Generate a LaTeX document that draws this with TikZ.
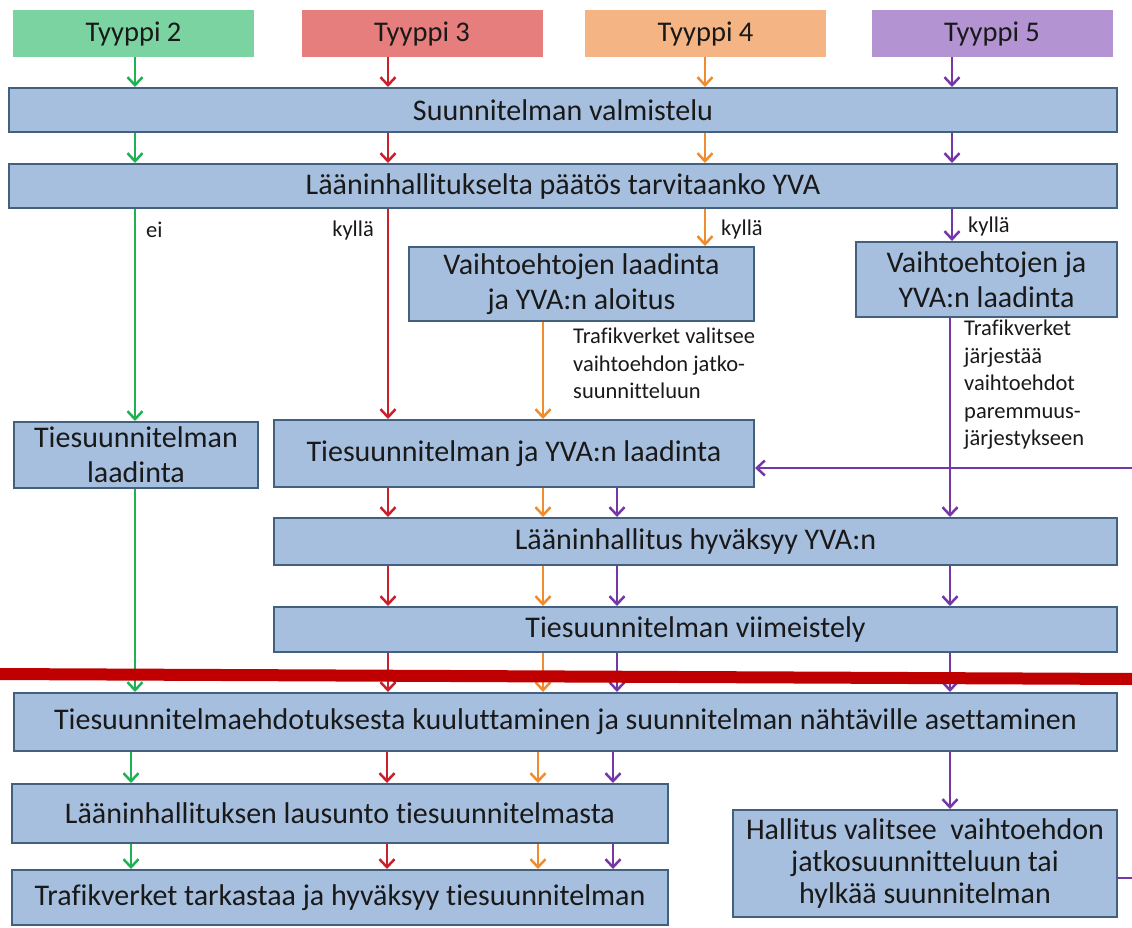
\documentclass[tikz,border=0pt]{standalone}
\usepackage{fontspec}
\setmainfont{Carlito}[Ligatures=NoCommon]
\usetikzlibrary{arrows.meta}
\definecolor{tgreen}{HTML}{7BD3A1}
\definecolor{tred}{HTML}{E67E7E}
\definecolor{torange}{HTML}{F5B483}
\definecolor{tpurple}{HTML}{B493D3}
\definecolor{agreen}{HTML}{1FB255}
\definecolor{ared}{HTML}{C9202C}
\definecolor{aorange}{HTML}{EF8C2E}
\definecolor{apurple}{HTML}{7536A8}
\definecolor{boxblue}{HTML}{A7BFDE}
\definecolor{boxedge}{HTML}{43607F}
\definecolor{palkki}{HTML}{C00000}
\tikzset{
  vaihe/.style={draw=boxedge, fill=boxblue, line width=2pt, inner sep=2pt, align=center,
    text=black!90, font=\fontsize{30}{35}\selectfont},
  tyyppi/.style={inner sep=0pt, minimum width=241pt, minimum height=47pt,
    text=black!90, font=\fontsize{28.5}{32}\selectfont},
  koko/.style 2 args={minimum width=#1pt, minimum height=#2pt},
  nuoli/.style={line width=2.5pt, -{Straight Barb[length=8pt,width=15pt]}},
  selite/.style={inner sep=0pt, align=left, text=black!90, font=\fontsize{22.5}{27.5}\selectfont}
}
\begin{document}
\begin{tikzpicture}[x=1pt,y=-1pt]
\useasboundingbox (0,0) rectangle (1132,927);
\clip (0,0) rectangle (1132,927);
\foreach \n/\x/\col/\i in {t2/133.5/tgreen/2, t3/422/tred/3, t4/705.5/torange/4, t5/992/tpurple/5}
  {
    \node[tyyppi, fill=\col] (\n) at (\x,33.5) {Tyyppi \i};
  }
\node[vaihe, koko={1108}{44}] (valm) at (563,110) {Suunnitelman valmistelu};
\node[vaihe, koko={1108}{44}] (paatos) at (563,186) {Lääninhallitukselta päätös tarvitaanko YVA};
\node[vaihe, koko={345}{74}] (vaiht4) at (581.5,284) {Vaihtoehtojen laadinta\\ja YVA:n aloitus};
\node[vaihe, koko={261}{75}] (vaiht5) at (986.5,279.5) {Vaihtoehtojen ja\\YVA:n laadinta};
\node[vaihe, koko={244}{66}] (tslaad) at (136,455) {Tiesuunnitelman\\laadinta};
\node[vaihe, koko={480}{67}] (tsyva) at (514,453.5) {Tiesuunnitelman ja YVA:n laadinta};
\node[vaihe, koko={843}{47}] (hyv) at (695.5,541.5) {Lääninhallitus hyväksyy YVA:n};
\node[vaihe, koko={843}{45}] (viim) at (695.5,629.5) {Tiesuunnitelman viimeistely};
\node[vaihe, koko={1103}{58}] (kuul) at (565.5,722) {Tiesuunnitelmaehdotuksesta kuuluttaminen ja suunnitelman nähtäville asettaminen};
\node[vaihe, koko={656}{59}] (lausunto) at (340,813.5) {Lääninhallituksen lausunto tiesuunnitelmasta};
\node[vaihe, koko={656}{55}] (tark) at (340,897.5) {Trafikverket tarkastaa ja hyväksyy tiesuunnitelman};
\node[vaihe, koko={384}{107}, font=\fontsize{30}{32}\selectfont] (hallitus) at (925,863.5) {Hallitus valitsee~ vaihtoehdon\\jatkosuunnitteluun tai\\hylkää suunnitelman};
\node[selite, anchor=west] (ei) at (146,230) {ei};
\node[selite, anchor=east] (kylla3) at (374,230) {kyllä};
\node[selite, anchor=west] (kylla4) at (721,229) {kyllä};
\node[selite, anchor=west] (kylla5) at (968,226) {kyllä};
\node[selite, anchor=north west] (valitsee) at (573,328) {Trafikverket valitsee\\vaihtoehdon jatko-\\suunnitteluun};
\node[selite, anchor=north west] (jarjestaa) at (964,320) {Trafikverket\\järjestää\\vaihtoehdot\\paremmuus-\\järjestykseen};
\coordinate (cg) at (135,0);
\coordinate (cr) at (388,0);
\coordinate (co) at (705,0);
\coordinate (cp) at (952,0);
\coordinate (co2) at (543,0);
\coordinate (cp2) at (617,0);
\coordinate (cp3) at (950,0);
\coordinate (cg2) at (131,0);
\coordinate (cr2) at (387,0);
\coordinate (co3) at (538,0);
\coordinate (cp4) at (613,0);
\foreach \t/\c/\col in {t2/cg/agreen, t3/cr/ared, t4/co/aorange, t5/cp/apurple}
  {
    \draw[nuoli, \col] (\t.south -| \c) -- (valm.north -| \c);
    \draw[nuoli, \col] (valm.south -| \c) -- (paatos.north -| \c);
  }
\draw[nuoli, agreen] (paatos.south -| cg) -- (tslaad.north -| cg);
\draw[nuoli, ared] (paatos.south -| cr) -- (tsyva.north -| cr);
\draw[nuoli, aorange] (paatos.south -| co) -- (vaiht4.north -| co);
\draw[nuoli, apurple] (paatos.south -| cp) -- (vaiht5.north -| cp);
\draw[nuoli, aorange] (vaiht4.south -| co2) -- (tsyva.north -| co2);
\draw[nuoli, apurple] (vaiht5.south -| cp3) -- (hyv.north -| cp3);
\draw[nuoli, agreen] (tslaad.south -| cg) -- (kuul.north -| cg);
\foreach \c/\col in {cr/ared, co2/aorange, cp2/apurple}
  {
    \draw[nuoli, \col] (tsyva.south -| \c) -- (hyv.north -| \c);
  }
\foreach \c/\col in {cr/ared, co2/aorange, cp2/apurple, cp3/apurple}
  {
    \draw[nuoli, \col] (hyv.south -| \c) -- (viim.north -| \c);
    \draw[nuoli, \col] (viim.south -| \c) -- (kuul.north -| \c);
  }
\foreach \c/\col in {cg2/agreen, cr2/ared, co3/aorange, cp4/apurple}
  {
    \draw[nuoli, \col] (kuul.south -| \c) -- (lausunto.north -| \c);
    \draw[nuoli, \col] (lausunto.south -| \c) -- (tark.north -| \c);
  }
\draw[nuoli, apurple] (kuul.south -| cp3) -- (hallitus.north -| cp3);
\draw[nuoli, apurple] ([yshift=-14.5pt]hallitus.east) -- ++(60,0) |- ([yshift=-14.5pt]tsyva.east);
\draw[line width=12pt, palkki] (-5,674) -- (1140,679);
\end{tikzpicture}
\end{document}
